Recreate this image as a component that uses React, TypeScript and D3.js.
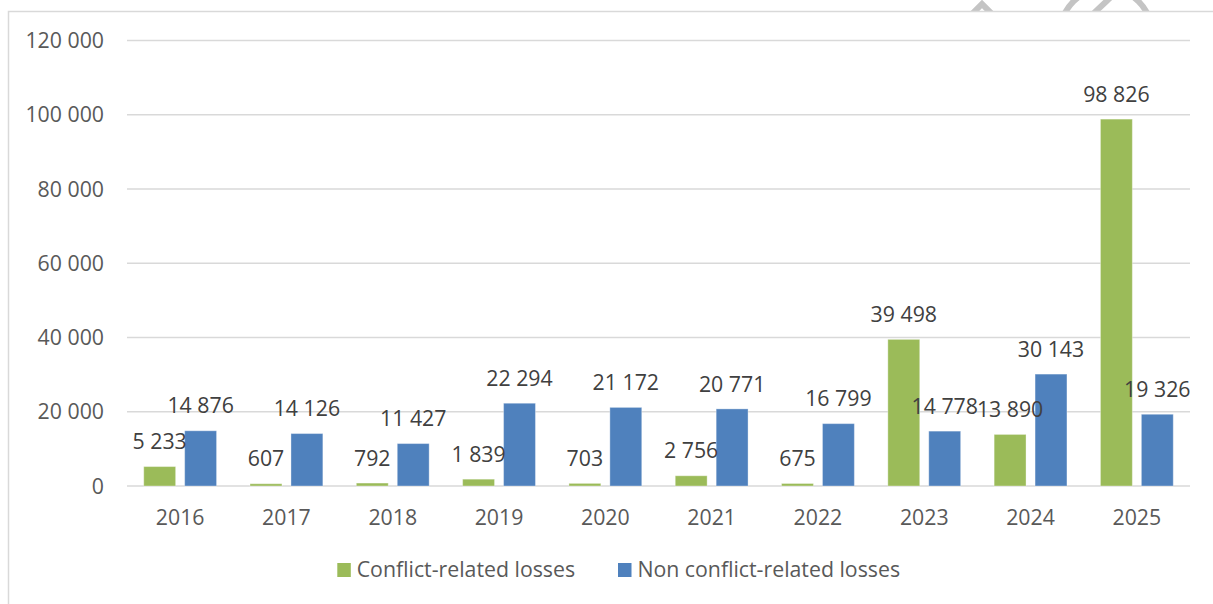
import React from "react";
import * as d3 from "d3";

const years = ["2016", "2017", "2018", "2019", "2020", "2021", "2022", "2023", "2024", "2025"];
const conflictLosses = [5233, 607, 792, 1839, 703, 2756, 675, 39498, 13890, 98826];
const nonConflictLosses = [14876, 14126, 11427, 22294, 21172, 20771, 16799, 14778, 30143, 19326];
const yTicks = [0, 20000, 40000, 60000, 80000, 100000, 120000];
const seriesNames = ["Conflict-related losses", "Non conflict-related losses"];
const seriesColors = ["#9BBB59", "#4F81BD"];

const fmt = (v: number) => d3.format(",")(v).replace(/,/g, " ");

export default function App() {
  const W = 1213, H = 604;
  const x = d3.scaleBand<string>().domain(years).range([127, 1190]).padding(0);
  const y = d3.scaleLinear().domain([0, 120000]).range([486, 40.5]);
  const bw = x.bandwidth();
  const barW = bw * 0.3;
  const gap = bw * 0.085;
  const font = "'Open Sans', sans-serif";
  const textColor = "#595959";
  const fs = 21.3;

  const series = [conflictLosses, nonConflictLosses];
  const barX = (i: number, si: number) => {
    const c = (x(years[i]) as number) + bw / 2;
    return si === 0 ? c - gap / 2 - barW : c + gap / 2;
  };

  return (
    <svg width={W} height={H} style={{ position: "absolute", left: 0, top: 0, background: "#fff" }} fontFamily={font}>
      <defs>
        <clipPath id="topclip">
          <rect x={0} y={0} width={W} height={11} />
        </clipPath>
      </defs>
      {/* watermark fragments above the chart frame */}
      <g clipPath="url(#topclip)" stroke="#c4c4c4" strokeWidth={6} fill="none">
        <path d="M972,14 L982,4 L992,14" />
        <circle cx={1106} cy={34} r={46} />
        <path d="M1093,14 L1112,-4" />
      </g>
      <rect x={8.5} y={11.5} width={W + 10} height={H + 10} fill="none" stroke="#d9d9d9" strokeWidth={1.5} />
      {/* gridlines */}
      {yTicks.map((t) => (
        <line key={t} x1={127} x2={1190} y1={y(t)} y2={y(t)} stroke="#d9d9d9" strokeWidth={1.5} />
      ))}
      {/* y labels */}
      {yTicks.map((t) => (
        <text key={"yl" + t} x={104} y={y(t)} dy="0.36em" textAnchor="end" fontSize={fs} fill={textColor}>
          {fmt(t)}
        </text>
      ))}
      {/* bars */}
      {series.map((s, si) =>
        s.map((v, i) => {
          const top = y(v);
          return (
            <rect key={`b${si}-${i}`} x={barX(i, si)} y={top} width={barW} height={y(0) - top} fill={seriesColors[si]} stroke="#ffffff" strokeOpacity={0.35} strokeWidth={1} />
          );
        })
      )}
      {/* data labels */}
      {series.map((s, si) =>
        s.map((v, i) => (
          <text key={`l${si}-${i}`} x={barX(i, si) + barW / 2} y={y(v) - 25} dy="0.36em" textAnchor="middle" fontSize={fs} fill="#404040">
            {fmt(v)}
          </text>
        ))
      )}
      {/* x labels */}
      {years.map((yr) => (
        <text key={"x" + yr} x={(x(yr) as number) + bw / 2} y={517} dy="0.36em" textAnchor="middle" fontSize={fs} fill={textColor}>
          {yr}
        </text>
      ))}
      {/* legend */}
      {seriesNames.map((n, i) => {
        const lx = [337.3, 618][i];
        return (
          <g key={n}>
            <rect x={lx} y={563} width={13.5} height={14} fill={seriesColors[i]} />
            <text x={lx + 19.4} y={569.5} dy="0.36em" fontSize={fs} fill={textColor}>
              {n}
            </text>
          </g>
        );
      })}
    </svg>
  );
}
